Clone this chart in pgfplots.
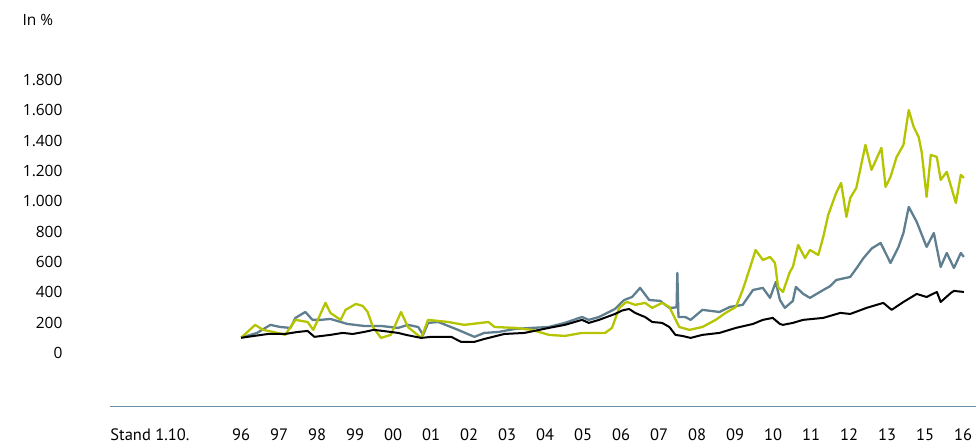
\documentclass[border=0pt]{standalone}
\usepackage{pgfplots}
\pgfplotsset{compat=1.18}
\usepackage{fontspec}
\setmainfont{Open Sans}
\newfontfamily\xfont{PT Sans}

\definecolor{lime}{HTML}{B4C400}
\definecolor{slate}{HTML}{5F7F90}
\definecolor{axisblue}{HTML}{6F90A6}

\pgfplotstableread{
x v
0 100
0.71 125
1.16 125
1.48 138
1.75 145
1.93 106
2.35 119
2.67 132
2.94 125
3.23 138
3.49 152
3.73 145
4.13 132
4.34 119
4.74 99
5.00 106
5.53 106
5.79 73
6.14 73
6.40 92
6.93 125
7.46 132
8.10 165
8.52 185
8.97 218
9.15 198
9.42 218
9.84 257
10.03 280
10.21 290
10.37 264
10.50 250
10.63 237
10.82 204
11.08 198
11.27 171
11.43 119
11.61 112
11.83 99
12.14 119
12.59 132
13.02 165
13.47 191
13.73 218
13.99 231
14.18 191
14.26 185
14.52 198
14.79 218
15.32 231
15.77 264
16.03 257
16.46 297
16.90 330
17.12 284
17.43 336
17.78 389
18.04 369
18.31 402
18.41 336
18.68 396
18.76 409
19.02 402
}\benchmark

\pgfplotstableread{
x v
0 100
0.42 132
0.77 185
1.03 171
1.30 165
1.43 231
1.69 270
1.88 218
2.09 218
2.35 224
2.80 191
3.23 178
3.68 178
4.13 165
4.39 185
4.66 171
4.79 119
4.92 198
5.19 204
5.71 152
6.14 106
6.40 132
6.77 138
7.20 158
7.65 165
8.10 171
8.52 198
8.97 237
9.15 218
9.42 237
9.84 290
10.08 349
10.29 369
10.50 429
10.74 349
11.03 343
11.27 297
11.46 300
11.48 528
11.51 237
11.69 237
11.83 218
12.14 284
12.59 270
12.86 303
13.20 317
13.47 415
13.73 429
13.92 363
14.07 468
14.18 349
14.31 297
14.52 343
14.60 435
14.79 390
14.97 363
15.32 415
15.50 440
15.66 481
16.03 501
16.20 560
16.38 626
16.60 690
16.83 725
17.09 593
17.30 699
17.43 791
17.57 963
17.78 864
18.04 699
18.23 791
18.41 567
18.57 659
18.76 560
18.94 659
19.02 633
}\fondsb

\pgfplotstableread{
x v
0 100
0.37 185
0.58 152
0.85 138
1.16 119
1.43 218
1.75 204
1.90 152
2.22 330
2.35 264
2.62 218
2.75 284
3.02 323
3.20 310
3.33 270
3.47 171
3.68 99
3.94 119
4.21 270
4.39 171
4.74 99
4.92 218
5.45 204
5.87 185
6.51 204
6.67 171
7.20 165
7.65 152
8.10 119
8.52 112
8.97 132
9.58 132
9.76 165
9.95 297
10.11 330
10.16 336
10.37 317
10.63 330
10.82 297
11.08 330
11.27 303
11.40 237
11.53 171
11.80 152
12.14 171
12.49 218
12.75 264
13.02 303
13.20 415
13.39 560
13.54 679
13.73 613
13.92 633
14.05 593
14.13 435
14.26 402
14.44 534
14.52 567
14.66 712
14.84 626
14.97 679
15.19 646
15.32 765
15.45 910
15.66 1055
15.79 1121
15.93 897
16.03 1022
16.19 1088
16.43 1372
16.59 1207
16.85 1352
16.96 1095
17.09 1161
17.25 1292
17.43 1372
17.57 1602
17.70 1490
17.83 1424
17.91 1325
18.04 1029
18.15 1306
18.31 1292
18.41 1141
18.57 1194
18.81 989
18.94 1174
19.02 1154
}\fondsa

\begin{document}
\begin{tikzpicture}
\begin{axis}[
    scale only axis,
    width=866pt, height=333.6pt,
    xmin=-3.45, xmax=19.34,
    ymin=-350, ymax=1850,
    axis x line*=bottom,
    axis y line*=left,
    x axis line style={-, draw=axisblue, line width=0.9pt},
    y axis line style={draw=none},
    major tick length=0pt,
    ytick={0,200,...,1800},
    xtick={-2.4,0,1,...,19},
    xticklabels={Stand 1.10.,96,97,98,99,00,01,02,03,04,05,06,07,08,09,10,11,12,13,15,16},
    xticklabel style={font=\xfont\fontsize{16.5}{19}\selectfont, yshift=-19pt},
    yticklabel style={font=\fontsize{15.5}{18}\selectfont, anchor=east, xshift=-44pt},
    /pgf/number format/assume math mode=true,
    /pgf/number format/1000 sep={.},
    line join=round,
]
\addplot[slate, line width=2.3pt] table[x=x, y=v] {\fondsb};
\addplot[lime, line width=2.3pt] table[x=x, y=v] {\fondsa};
\addplot[black, line width=2pt] table[x=x, y=v] {\benchmark};
\end{axis}
\node[anchor=west, font=\fontsize{15.5}{18}\selectfont] at ([xshift=-91pt, yshift=52pt]current axis.north west) {In \%};
\pgfresetboundingbox
\path (current axis.south west) ++(-110pt,-40pt) rectangle ++(976pt,446pt);
\end{tikzpicture}
\end{document}
